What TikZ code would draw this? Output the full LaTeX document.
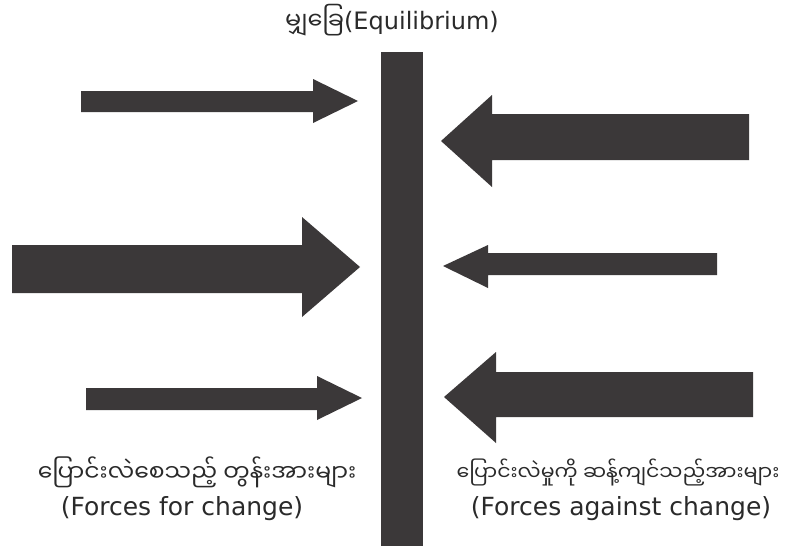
\documentclass[tikz,border=0pt]{standalone}
\usepackage{fontspec}
\setmainfont{DejaVu Sans}
\newfontfamily\mya[Script=Myanmar]{Noto Sans Myanmar UI}
\definecolor{ink}{HTML}{3B3839}
\definecolor{txt}{HTML}{2A2A2A}
\begin{document}
\begin{tikzpicture}[x=1pt,y=-1pt,
  force/.style={fill=ink,draw=none},
  lbl/.style={text=txt,inner sep=0pt,align=center,font=\fontsize{25}{29}\selectfont},
  mlbl/.style={text=txt,inner sep=0pt,align=center,font=\fontsize{23.5}{27}\selectfont\mya}]
\useasboundingbox (0,0) rectangle (794,546);
\fill[white] (0,0) rectangle (794,546);
% central bar
\fill[force] (381,52) rectangle (423,546);
% forces for change (pointing right)
\fill[force] (81,91) -- (313,91) -- (313,79) -- (358,101) -- (313,123) -- (313,112) -- (81,112) -- cycle;
\fill[force] (12,245) -- (302,245) -- (302,217) -- (360,267) -- (302,317) -- (302,293) -- (12,293) -- cycle;
\fill[force] (86,388) -- (317,388) -- (317,376) -- (362,398) -- (317,420) -- (317,410) -- (86,410) -- cycle;
% forces against change (pointing left)
\fill[force] (749,114) -- (492,114) -- (492,95) -- (441,141) -- (492,187) -- (492,160) -- (749,160) -- cycle;
\fill[force] (717,253) -- (488,253) -- (488,245) -- (443,266) -- (488,288) -- (488,275) -- (717,275) -- cycle;
\fill[force] (753,372) -- (496,372) -- (496,352) -- (444,397) -- (496,443) -- (496,417) -- (753,417) -- cycle;
% labels
\node[lbl,font=\fontsize{24}{28}\selectfont] (title) at (392,20) {{\mya မျှခြေ}(Equilibrium)};
\node[mlbl] (forb) at (197,472) {ပြောင်းလဲစေသည့် တွန်းအားများ};
\node[lbl] (fore) at (182,509) {(Forces for change)};
\node[mlbl,font=\fontsize{20.5}{25}\selectfont\mya] (agb) at (618,472) {ပြောင်းလဲမှုကို ဆန့်ကျင်သည့်အားများ};
\node[lbl] (age) at (621,509) {(Forces against change)};
\end{tikzpicture}
\end{document}
